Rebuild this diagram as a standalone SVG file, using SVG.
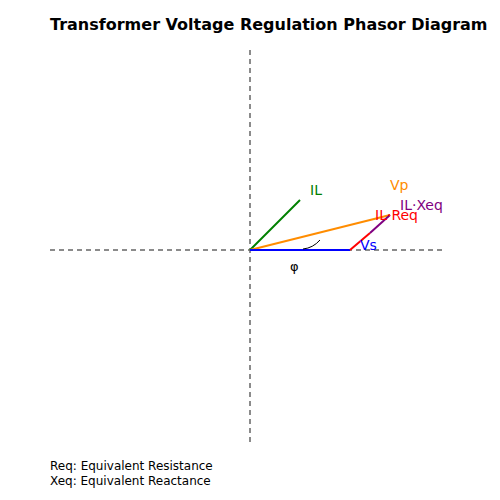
<svg xmlns="http://www.w3.org/2000/svg" width="500" height="500" viewBox="0 0 500 500">
<style>
text{font-family:"DejaVu Sans",sans-serif;}
.axis{stroke:#666;stroke-width:1.5;stroke-dasharray:5,4;fill:none}
.lbl{font-size:14px}
.ph{stroke-width:2;fill:none}
</style>
<rect width="500" height="500" fill="#fff"/>
<text x="50" y="30" font-size="16" font-weight="bold">Transformer Voltage Regulation Phasor Diagram</text>
<g id="axes">
<line class="axis" x1="50" y1="250" x2="445" y2="250"/>
<line class="axis" x1="250" y1="50" x2="250" y2="445"/>
</g>
<g id="connectors">
<line id="IL" class="ph" x1="250" y1="250" x2="300" y2="200" stroke="green"/>
<line id="Vp" class="ph" x1="250" y1="250" x2="390" y2="215" stroke="darkorange"/>
<line id="Vs" class="ph" x1="250" y1="250" x2="350" y2="250" stroke="blue"/>
<line id="ILReq" class="ph" x1="350" y1="250" x2="370" y2="233" stroke="red"/>
<line id="ILXeq" class="ph" x1="370" y1="233" x2="390" y2="215" stroke="purple"/>
<path id="phi-arc" d="M303,249 Q313,248 320,240" stroke="#000" stroke-width="1" fill="none"/>
</g>
<g id="labels" class="lbl">
<text x="310" y="195" fill="green">IL</text>
<text x="390" y="190" fill="darkorange">Vp</text>
<text x="400" y="210" fill="purple">IL·Xeq</text>
<text x="375" y="220" fill="red">IL·Req</text>
<text x="360" y="250" fill="blue">Vs</text>
<text x="290" y="271" fill="#000" font-size="13">φ</text>
</g>
<g id="legend" font-size="12">
<text x="50" y="470">Req: Equivalent Resistance</text>
<text x="50" y="485">Xeq: Equivalent Reactance</text>
</g>
</svg>
